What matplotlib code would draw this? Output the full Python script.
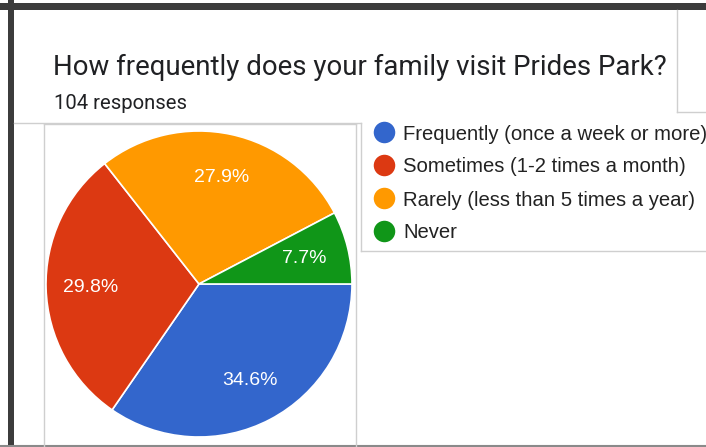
import matplotlib
matplotlib.use("Agg")
import matplotlib.pyplot as plt

# ---- data ----
categories = [
    "Frequently (once a week or more)",
    "Sometimes (1-2 times a month)",
    "Rarely (less than 5 times a year)",
    "Never",
]
counts = [36, 31, 29, 8]
colors = ["#3366CC", "#DC3912", "#FF9900", "#109618"]
title = "How frequently does your family visit Prides Park?"
subtitle = f"{sum(counts)} responses"

W, H = 706, 447
fig = plt.figure(figsize=(W / 100, H / 100), dpi=100)
fig.patch.set_facecolor("white")

# background axes in pixel coordinates (screenshot frame, boxes, text)
bg = fig.add_axes([0, 0, 1, 1])
bg.set_xlim(0, W)
bg.set_ylim(H, 0)
bg.axis("off")

dark = "#3c3c3c"
grey = "#cfcfcf"
bg.fill_between([0, W], 3, 10, color=dark, lw=0)
bg.fill_between([8, 14], 0, H, color=dark, lw=0)
bg.plot([0, W], [446, 446], color="#8a8a8a", lw=1.5)

# thin panel lines
bg.plot([14, 361], [123, 123], color=grey, lw=1)
bg.plot([44, 44], [124, H], color=grey, lw=1)
bg.plot([44, 356], [124, 124], color=grey, lw=1)
bg.plot([356, 356], [124, H], color=grey, lw=1)
bg.plot([361, 361], [123, 251], color=grey, lw=1)
bg.plot([361, W], [251, 251], color=grey, lw=1)
bg.plot([677, 677], [10, 112], color=grey, lw=1)
bg.plot([677, W], [112, 112], color=grey, lw=1)

bg.text(53, 75, title, fontsize=19.9, family="Roboto", color="#202124", va="baseline")
bg.text(54, 109, subtitle, fontsize=14.6, family="Roboto", color="#202124", va="baseline")

# legend drawn from the category list
for i, (lab, col) in enumerate(zip(categories, colors)):
    y = 132 + i * 33
    bg.scatter([384], [y], s=240, color=col, lw=0, zorder=3)
    bg.text(403, y, lab, fontsize=14.6, family="Liberation Sans", color="#222222",
            va="center_baseline")

# ---- pie ----
cx, cy, r = 199, 284, 153
ax = fig.add_axes([(cx - r) / W, (H - cy - r) / H, 2 * r / W, 2 * r / H])
wedges, texts, autotexts = ax.pie(
    counts,
    colors=colors,
    startangle=0,
    counterclock=False,
    autopct="%1.1f%%",
    pctdistance=0.71,
    wedgeprops=dict(edgecolor="white", linewidth=1.2),
    textprops=dict(color="white", fontsize=14, family="Liberation Sans"),
)
ax.set_xlim(-1, 1)
ax.set_ylim(-1, 1)

fig.savefig("out.png", dpi=100)
